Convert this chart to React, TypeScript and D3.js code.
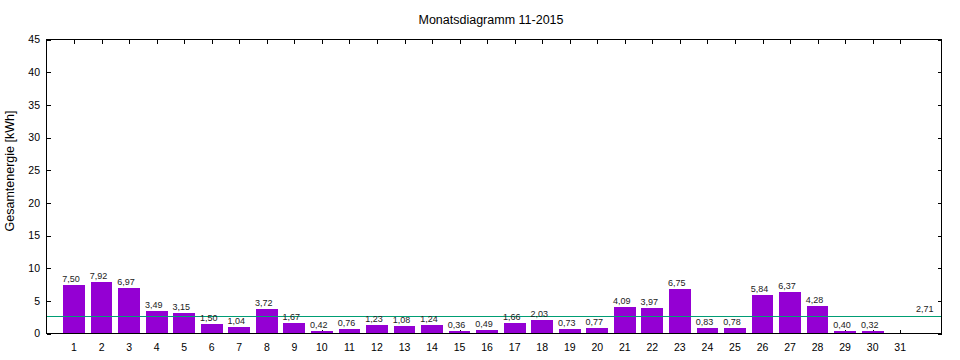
import React from "react";
import * as d3 from "d3";

const title = "Monatsdiagramm 11-2015";
const yAxisLabel = "Gesamtenergie [kWh]";
const days = [1,2,3,4,5,6,7,8,9,10,11,12,13,14,15,16,17,18,19,20,21,22,23,24,25,26,27,28,29,30];
const energy = [7.50,7.92,6.97,3.49,3.15,1.50,1.04,3.72,1.67,0.42,0.76,1.23,1.08,1.24,0.36,0.49,1.66,2.03,0.73,0.77,4.09,3.97,6.75,0.83,0.78,5.84,6.37,4.28,0.40,0.32];
const xTicks = d3.range(1, 32);
const yTicks = [0,5,10,15,20,25,30,35,40,45];
const average = 2.71;
const averageAtDay = 32;

const W = 960, H = 360;
const L = 46.5, R = 941.5, T = 39.5, B = 333.5;
const fmt = (v: number) => v.toFixed(2).replace(".", ",");

export default function App() {
  const x = d3.scaleLinear().domain([0, 32.5]).range([L, R]);
  const y = d3.scaleLinear().domain([0, 45]).range([B, T]);
  const bw = x(0.79) - x(0);
  const tl = 4;
  const font = "'Liberation Sans', Arial, sans-serif";
  return (
    <div style={{ position: "absolute", left: 0, top: 0 }}>
      <svg width={W} height={H} style={{ display: "block", background: "#fff" }} fontFamily={font}>
        <rect x={0} y={0} width={W} height={H} fill="#fff" />
        {/* ticks */}
        <g stroke="#000" strokeWidth={1} shapeRendering="crispEdges">
          {xTicks.map((t) => (
            <g key={"xt" + t}>
              <line x1={Math.round(x(t)) + 0.5} x2={Math.round(x(t)) + 0.5} y1={B} y2={B - tl} />
              <line x1={Math.round(x(t)) + 0.5} x2={Math.round(x(t)) + 0.5} y1={T} y2={T + tl} />
            </g>
          ))}
          {yTicks.map((t) => (
            <g key={"yt" + t}>
              <line x1={L} x2={L + tl} y1={Math.round(y(t)) + 0.5} y2={Math.round(y(t)) + 0.5} />
              <line x1={R} x2={R - tl} y1={Math.round(y(t)) + 0.5} y2={Math.round(y(t)) + 0.5} />
            </g>
          ))}
        </g>
        {/* bars */}
        <g fill="#9400d3" shapeRendering="crispEdges">
          {energy.map((v, i) => (
            <rect key={"b" + i} x={x(days[i]) - bw / 2} y={y(v)} width={bw} height={y(0) - y(v)} />
          ))}
        </g>
        {/* average line */}
        <line x1={L} x2={R} y1={Math.round(y(average)) + 0.5} y2={Math.round(y(average)) + 0.5} stroke="#009e73" strokeWidth={1} shapeRendering="crispEdges" />
        {/* value labels */}
        <g fontSize={9} fill="#222" textAnchor="middle">
          {energy.map((v, i) => (
            <text key={"l" + i} x={x(days[i]) - 3} y={y(v) - 3}>{fmt(v)}</text>
          ))}
          <text x={x(averageAtDay) - 3} y={y(average) - 3.5}>{fmt(average)}</text>
        </g>
        {/* border */}
        <rect x={L} y={T} width={R - L} height={B - T} fill="none" stroke="#000" strokeWidth={1} shapeRendering="crispEdges" />
        {/* tick labels */}
        <g fontSize={10.5} fill="#000" textAnchor="middle">
          {xTicks.map((t) => (
            <text key={"xl" + t} x={x(t)} y={351}>{t}</text>
          ))}
        </g>
        <g fontSize={10.5} fill="#000" textAnchor="end">
          {yTicks.map((t) => (
            <text key={"yl" + t} x={40} y={y(t) + 3.8}>{t}</text>
          ))}
        </g>
        <text x={491} y={24} textAnchor="middle" fontSize={12.5} fill="#000">{title}</text>
        <text transform="translate(14,171) rotate(-90)" textAnchor="middle" fontSize={12.5} fill="#000">{yAxisLabel}</text>
      </svg>
    </div>
  );
}
